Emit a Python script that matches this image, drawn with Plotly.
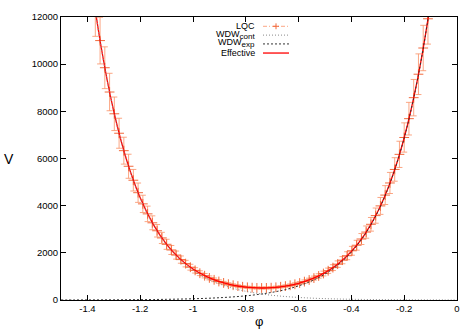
import plotly.graph_objects as go

# ---- data ----
# smooth curves (Effective, WDW_cont, WDW_exp) sampled every 0.05
phi_curve = [-1.50, -1.45, -1.40, -1.35, -1.30, -1.25, -1.20, -1.15, -1.10, -1.05,
             -1.00, -0.95, -0.90, -0.85, -0.80, -0.75, -0.70, -0.65, -0.60, -0.55,
             -0.50, -0.45, -0.40, -0.35, -0.30, -0.25, -0.20, -0.15, -0.10, -0.05, 0.00]
wdw_cont = [27310, 20080, 14770, 10860, 7985, 5871, 4317, 3174, 2334, 1716,
            1262, 928, 682, 502, 369, 271, 199, 147, 108, 79,
            58, 43, 32, 23, 17, 13, 9, 7, 5, 4, 3]
wdw_exp = [2.5, 3.4, 4.6, 6.2, 8.4, 11.4, 15.4, 20.9, 28.4, 38.5,
           52.2, 70.8, 96.1, 130.4, 176.8, 239.9, 325.5, 441.6, 599, 813,
           1102, 1496, 2029, 2752, 3734, 5066, 6872, 9324, 12650, 17160, 23280]
effective = [27313, 20083, 14775, 10866, 7993, 5882, 4332, 3195, 2362, 1755,
             1314, 999, 778, 632, 546, 511, 525, 589, 707, 892,
             1160, 1539, 2061, 2775, 3751, 5079, 6881, 9331, 12655, 17164, 23283]

# LQC points with error bars
phi_lqc = [-1.370, -1.352, -1.334, -1.316, -1.298, -1.280, -1.262, -1.244, -1.226, -1.208,
           -1.190, -1.172, -1.154, -1.136, -1.118, -1.100, -1.082, -1.064, -1.046, -1.028,
           -1.010, -0.992, -0.974, -0.956, -0.938, -0.920, -0.902, -0.884, -0.866, -0.848,
           -0.830, -0.812, -0.794, -0.776, -0.758, -0.740, -0.722, -0.704, -0.686, -0.668,
           -0.650, -0.632, -0.614, -0.596, -0.578, -0.560, -0.542, -0.524, -0.506, -0.488,
           -0.470, -0.452, -0.434, -0.416, -0.398, -0.380, -0.362, -0.344, -0.326, -0.308,
           -0.290, -0.272, -0.254, -0.236, -0.218, -0.200, -0.182, -0.164, -0.146, -0.128,
           -0.110]
v_lqc = [12286, 11000, 9849, 8819, 7896, 7071, 6332, 5671, 5079, 4550,
         4076, 3652, 3273, 2935, 2632, 2362, 2121, 1905, 1713, 1543,
         1391, 1256, 1136, 1030, 937, 856, 785, 724, 671, 627,
         590, 561, 538, 523, 514, 510, 513, 522, 538, 560,
         589, 624, 667, 719, 779, 849, 929, 1020, 1123, 1241,
         1373, 1521, 1689, 1877, 2087, 2322, 2586, 2880, 3210, 3578,
         3990, 4449, 4963, 5536, 6176, 6891, 7689, 8580, 9574, 10685,
         11924]
err_lqc = [1106, 990, 886, 794, 711, 636, 570, 510, 457, 410,
           367, 329, 295, 264, 237, 213, 191, 171, 154, 139,
           125, 113, 102, 93, 84, 77, 71, 65, 60, 56,
           53, 50, 48, 47, 46, 46, 46, 47, 48, 50,
           53, 56, 60, 65, 70, 76, 84, 92, 101, 112,
           124, 137, 152, 169, 188, 209, 233, 259, 289, 322,
           359, 400, 447, 498, 556, 620, 692, 772, 862, 962,
           1073]

x_ticks = [-1.4, -1.2, -1.0, -0.8, -0.6, -0.4, -0.2, 0.0]
x_labels = ["-1.4", "-1.2", "-1", "-0.8", "-0.6", "-0.4", "-0.2", "0"]
y_ticks = [0, 2000, 4000, 6000, 8000, 10000, 12000]
y_labels = ["0", "2000", "4000", "6000", "8000", "10000", "12000"]

legend_names = ["LQC",
                "WDW<sub><span style='font-size:8px'>cont</span></sub>",
                "WDW<sub><span style='font-size:8px'>exp</span></sub>",
                "Effective"]

FONT = "Liberation Sans, Arial, sans-serif"
LQC_BAR = "rgba(250,150,110,0.85)"
LQC_MARK = "#f26a3c"

fig = go.Figure()
fig.add_trace(go.Scatter(
    x=phi_lqc, y=v_lqc, mode="markers",
    marker=dict(symbol="cross-thin", size=7, line=dict(color=LQC_MARK, width=1)),
    error_y=dict(type="data", array=err_lqc, color=LQC_BAR, thickness=1, width=3),
    showlegend=False, hoverinfo="skip"))
fig.add_trace(go.Scatter(x=phi_curve, y=effective, mode="lines", line_shape="spline",
                         line=dict(color="#ff0000", width=1.3), showlegend=False))
fig.add_trace(go.Scatter(x=phi_curve, y=wdw_cont, mode="lines", line_shape="spline",
                         line=dict(color="#8a8a8a", width=1, dash="1px,2px"), showlegend=False))
fig.add_trace(go.Scatter(x=phi_curve, y=wdw_exp, mode="lines", line_shape="spline",
                         line=dict(color="#333333", width=1, dash="2px,2px"), showlegend=False))

# gnuplot-style key (text right-aligned, sample to the right)
L, R, T, B = 61, 457, 11, 300
W, H = R - L, B - T
def px(p):
    return (p - L) / W
def py(p):
    return (B - p) / H

row_y = [20.5, 29.5, 38.5, 47.8]
text_dy = [0, -0.5, -0.5, 0]
styles = [dict(color=LQC_BAR, width=1, dash="4px,2px,1px,2px"),
          dict(color="#8a8a8a", width=1, dash="1px,2px"),
          dict(color="#333333", width=1, dash="2px,2px"),
          dict(color="#ff0000", width=1.3)]
annotations = []
shapes = []
for name, yy, dy, st in zip(legend_names, row_y, text_dy, styles):
    annotations.append(dict(x=px(257), y=py(yy + dy), xref="paper", yref="paper",
                            text=name, showarrow=False, xanchor="right", yanchor="middle",
                            font=dict(family=FONT, size=9, color="black")))
    shapes.append(dict(type="line", xref="paper", yref="paper",
                       x0=px(263), x1=px(289), y0=py(yy), y1=py(yy), line=st))
# the '+' of the LQC key sample
shapes.append(dict(type="line", xref="paper", yref="paper", x0=px(276), x1=px(276),
                   y0=py(row_y[0]) - 3 / H, y1=py(row_y[0]) + 3 / H,
                   line=dict(color=LQC_MARK, width=1)))
shapes.append(dict(type="line", xref="paper", yref="paper", x0=px(273), x1=px(279),
                   y0=py(row_y[0]), y1=py(row_y[0]), line=dict(color=LQC_MARK, width=1)))

annotations.append(dict(x=px(9), y=0.5, xref="paper", yref="paper", text="V",
                        showarrow=False, xanchor="center", yanchor="middle",
                        font=dict(family=FONT, size=14, color="black")))
annotations.append(dict(x=0.5, y=py(322), xref="paper", yref="paper", text="φ",
                        showarrow=False, xanchor="center", yanchor="middle",
                        font=dict(family=FONT, size=13, color="black")))

fig.update_layout(
    width=471, height=330,
    margin=dict(l=L, r=471 - R, t=T, b=330 - B),
    paper_bgcolor="white", plot_bgcolor="white",
    font=dict(family=FONT, size=9.5, color="black"),
    annotations=annotations, shapes=shapes, showlegend=False,
)
fig.update_xaxes(range=[-1.5, 0], tickvals=x_ticks, ticktext=x_labels,
                 ticks="inside", ticklen=5, tickcolor="black", showline=True,
                 linecolor="black", linewidth=1, mirror="allticks", showgrid=False,
                 zeroline=False, tickfont=dict(family=FONT, size=9.5))
fig.update_yaxes(range=[0, 12000], tickvals=y_ticks, ticktext=y_labels,
                 ticks="inside", ticklen=5, tickcolor="black", showline=True,
                 linecolor="black", linewidth=1, mirror="allticks", showgrid=False,
                 zeroline=False, tickfont=dict(family=FONT, size=9.5))

fig.write_html("out.html", config={"displayModeBar": False},
               post_script="document.body.style.margin='0';document.body.style.padding='0';")
